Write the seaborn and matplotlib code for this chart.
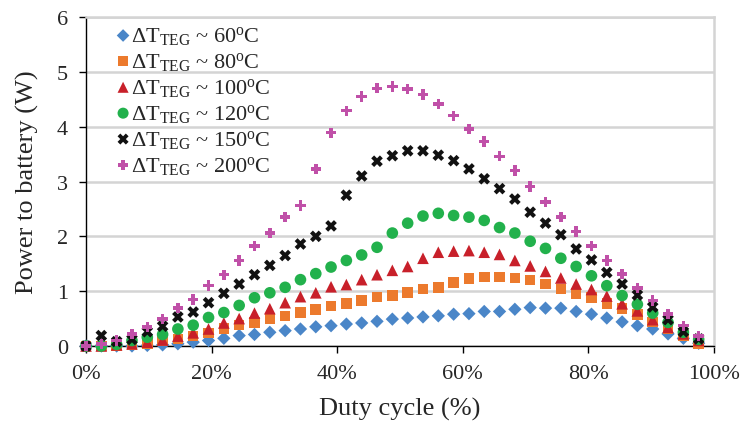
import matplotlib
matplotlib.use("Agg")
import matplotlib.pyplot as plt
from matplotlib.ticker import FuncFormatter, MultipleLocator
import seaborn as sns
import pandas as pd

# Duty cycle sweep (%)
duty = [0.00, 2.44, 4.88, 7.32, 9.76, 12.20, 14.63, 17.07, 19.51, 21.95,
        24.39, 26.83, 29.27, 31.71, 34.15, 36.59, 39.02, 41.46, 43.90, 46.34,
        48.78, 51.22, 53.66, 56.10, 58.54, 60.98, 63.41, 65.85, 68.29, 70.73,
        73.17, 75.61, 78.05, 80.49, 82.93, 85.37, 87.80, 90.24, 92.68, 95.12,
        97.56]

# Power delivered to the battery (W) for each TEG temperature difference
p60 = [0, 0, 0, 0, 0.01, 0.02, 0.04, 0.07, 0.10, 0.14,
       0.19, 0.21, 0.25, 0.28, 0.31, 0.35, 0.37, 0.40, 0.42, 0.45,
       0.49, 0.51, 0.53, 0.55, 0.58, 0.59, 0.63, 0.63, 0.67, 0.70,
       0.69, 0.69, 0.63, 0.58, 0.51, 0.44, 0.37, 0.31, 0.22, 0.14,
       0.05]
p80 = [0, 0, 0.01, 0.03, 0.05, 0.09, 0.13, 0.18, 0.24, 0.32,
       0.38, 0.43, 0.50, 0.55, 0.61, 0.67, 0.73, 0.78, 0.83, 0.89,
       0.92, 0.98, 1.04, 1.07, 1.16, 1.23, 1.26, 1.26, 1.24, 1.20,
       1.13, 1.04, 0.96, 0.88, 0.78, 0.68, 0.57, 0.44, 0.32, 0.19,
       0.04]
p100 = [0, 0, 0.02, 0.04, 0.07, 0.11, 0.18, 0.24, 0.31, 0.42,
        0.50, 0.60, 0.68, 0.79, 0.90, 0.97, 1.08, 1.12, 1.21, 1.30,
        1.38, 1.45, 1.60, 1.71, 1.73, 1.74, 1.71, 1.67, 1.56, 1.46,
        1.36, 1.24, 1.13, 1.03, 0.91, 0.77, 0.64, 0.48, 0.34, 0.22,
        0.10]
p120 = [0, 0, 0.03, 0.10, 0.16, 0.21, 0.31, 0.38, 0.52, 0.61,
        0.74, 0.88, 0.97, 1.07, 1.21, 1.32, 1.44, 1.56, 1.66, 1.80,
        2.06, 2.24, 2.37, 2.42, 2.38, 2.35, 2.29, 2.16, 2.06, 1.91,
        1.78, 1.60, 1.45, 1.28, 1.10, 0.92, 0.76, 0.60, 0.43, 0.25,
        0.12]
p150 = [0, 0.19, 0.08, 0.12, 0.26, 0.36, 0.53, 0.62, 0.79, 0.96,
        1.13, 1.30, 1.47, 1.65, 1.86, 2.00, 2.19, 2.75, 3.10, 3.37,
        3.47, 3.56, 3.56, 3.48, 3.38, 3.23, 3.05, 2.87, 2.68, 2.44,
        2.24, 2.03, 1.77, 1.57, 1.34, 1.13, 0.93, 0.71, 0.48, 0.26,
        0.13]
p200 = [0, 0.04, 0.10, 0.22, 0.35, 0.49, 0.69, 0.85, 1.10, 1.30,
        1.56, 1.82, 2.06, 2.35, 2.56, 3.23, 3.89, 4.29, 4.55, 4.70,
        4.73, 4.69, 4.59, 4.41, 4.20, 3.96, 3.73, 3.46, 3.20, 2.91,
        2.63, 2.35, 2.09, 1.82, 1.56, 1.31, 1.06, 0.83, 0.58, 0.37,
        0.18]

labels = [r"$\Delta$T$_{\mathrm{TEG}}$ ~ 60$^{\mathrm{o}}$C",
          r"$\Delta$T$_{\mathrm{TEG}}$ ~ 80$^{\mathrm{o}}$C",
          r"$\Delta$T$_{\mathrm{TEG}}$ ~ 100$^{\mathrm{o}}$C",
          r"$\Delta$T$_{\mathrm{TEG}}$ ~ 120$^{\mathrm{o}}$C",
          r"$\Delta$T$_{\mathrm{TEG}}$ ~ 150$^{\mathrm{o}}$C",
          r"$\Delta$T$_{\mathrm{TEG}}$ ~ 200$^{\mathrm{o}}$C"]
series = [p60, p80, p100, p120, p150, p200]

sns.set_theme(style="white")
plt.rcParams["font.family"] = ["Liberation Serif", "DejaVu Serif"]
plt.rcParams["mathtext.fontset"] = "custom"
plt.rcParams["mathtext.rm"] = "Liberation Serif"
plt.rcParams["mathtext.it"] = "Liberation Serif:italic"
plt.rcParams["mathtext.bf"] = "Liberation Serif:bold"

styles = [
    dict(marker="D", color="#4a86c8", s=46),
    dict(marker="s", color="#ec7a2d", s=58),
    dict(marker="^", color="#c8202a", s=70),
    dict(marker="o", color="#22b14c", s=70),
    dict(marker="X", color="#111111", s=70),
    dict(marker="P", color="#c050a8", s=56),
]

fig = plt.figure(figsize=(7.45, 4.27), dpi=100)
ax = fig.add_axes([86 / 745, 1 - 347 / 427, 628 / 745, 329 / 427])

for vals, lab, st in zip(series, labels, styles):
    df = pd.DataFrame({"duty": duty, "power": vals})
    sns.scatterplot(data=df, x="duty", y="power", ax=ax, label=lab,
                    marker=st["marker"], color=st["color"], s=st["s"],
                    linewidth=0, edgecolor="none", zorder=3, clip_on=False)

ax.set_xlim(0, 100)
ax.set_ylim(0, 6)
ax.xaxis.set_major_locator(MultipleLocator(20))
ax.yaxis.set_major_locator(MultipleLocator(1))
ax.xaxis.set_major_formatter(FuncFormatter(lambda v, _: f"{v:.0f}%"))
ax.yaxis.set_major_formatter(FuncFormatter(lambda v, _: f"{v:.0f}"))

ax.grid(axis="y", color="#d4d4d4", linewidth=1.8, zorder=0)
ax.grid(axis="x", visible=False)
ax.set_axisbelow(True)

for side in ("top", "right"):
    ax.spines[side].set_color("#d4d4d4")
    ax.spines[side].set_linewidth(1.8)
for side in ("left", "bottom"):
    ax.spines[side].set_color("black")
    ax.spines[side].set_linewidth(1.0)

ax.tick_params(axis="both", which="major", direction="out", length=5,
               width=1, color="black", labelsize=16, bottom=True, left=True)
ax.tick_params(axis="x", pad=8)
ax.tick_params(axis="y", pad=8)

ax.set_xlabel("Duty cycle (%)", fontsize=19, labelpad=10)
ax.set_ylabel("Power to battery (W)", fontsize=19, labelpad=13)

leg = ax.legend(loc="upper left", bbox_to_anchor=(0.021, 1.025),
                frameon=False, fontsize=16, handletextpad=0.0,
                labelspacing=0.13, borderpad=0.2, handlelength=0.75,
                markerscale=0.95)

fig.savefig("out.png", dpi=100)
